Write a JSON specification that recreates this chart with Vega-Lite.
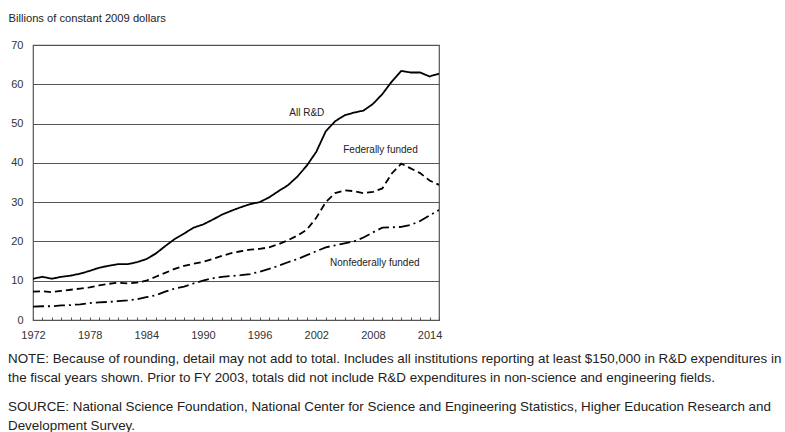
{
  "$schema": "https://vega.github.io/schema/vega-lite/v6.json",
  "width": 406,
  "height": 275,
  "autosize": {"type": "none"},
  "padding": {"left": 33, "top": 45, "right": 346, "bottom": 112},
  "background": "white",
  "config": {
    "font": "Liberation Sans",
    "view": {"stroke": "#555", "strokeWidth": 1.2}
  },
  "title": {
    "text": ["NOTE: Because of rounding, detail may not add to total. Includes all institutions reporting at least $150,000 in R&D expenditures in", "the fiscal years shown. Prior to FY 2003, totals did not include R&D expenditures in non-science and engineering fields."],
    "subtitle": ["SOURCE: National Science Foundation, National Center for Science and Engineering Statistics, Higher Education Research and", "Development Survey."],
    "orient": "bottom",
    "anchor": "start",
    "frame": "group",
    "dx": -25,
    "offset": 12,
    "fontSize": 13.4,
    "fontWeight": "normal",
    "color": "#222",
    "lineHeight": 19,
    "subtitleFontSize": 13.4,
    "subtitleColor": "#222",
    "subtitleLineHeight": 19,
    "subtitlePadding": 16
  },
  "datasets": {
    "series": [
      {"year": 1972, "series": "All R&D", "value": 10.5},
      {"year": 1973, "series": "All R&D", "value": 11.0},
      {"year": 1974, "series": "All R&D", "value": 10.5},
      {"year": 1975, "series": "All R&D", "value": 11.0},
      {"year": 1976, "series": "All R&D", "value": 11.3},
      {"year": 1977, "series": "All R&D", "value": 11.8},
      {"year": 1978, "series": "All R&D", "value": 12.5},
      {"year": 1979, "series": "All R&D", "value": 13.3},
      {"year": 1980, "series": "All R&D", "value": 13.8},
      {"year": 1981, "series": "All R&D", "value": 14.2},
      {"year": 1982, "series": "All R&D", "value": 14.2},
      {"year": 1983, "series": "All R&D", "value": 14.7},
      {"year": 1984, "series": "All R&D", "value": 15.5},
      {"year": 1985, "series": "All R&D", "value": 16.9},
      {"year": 1986, "series": "All R&D", "value": 18.8},
      {"year": 1987, "series": "All R&D", "value": 20.6},
      {"year": 1988, "series": "All R&D", "value": 22.0},
      {"year": 1989, "series": "All R&D", "value": 23.5},
      {"year": 1990, "series": "All R&D", "value": 24.3},
      {"year": 1991, "series": "All R&D", "value": 25.5},
      {"year": 1992, "series": "All R&D", "value": 26.8},
      {"year": 1993, "series": "All R&D", "value": 27.8},
      {"year": 1994, "series": "All R&D", "value": 28.7},
      {"year": 1995, "series": "All R&D", "value": 29.5},
      {"year": 1996, "series": "All R&D", "value": 30.0},
      {"year": 1997, "series": "All R&D", "value": 31.2},
      {"year": 1998, "series": "All R&D", "value": 32.8},
      {"year": 1999, "series": "All R&D", "value": 34.3},
      {"year": 2000, "series": "All R&D", "value": 36.5},
      {"year": 2001, "series": "All R&D", "value": 39.3},
      {"year": 2002, "series": "All R&D", "value": 42.8},
      {"year": 2003, "series": "All R&D", "value": 48.0},
      {"year": 2004, "series": "All R&D", "value": 50.6},
      {"year": 2005, "series": "All R&D", "value": 52.1},
      {"year": 2006, "series": "All R&D", "value": 52.8},
      {"year": 2007, "series": "All R&D", "value": 53.3},
      {"year": 2008, "series": "All R&D", "value": 55.0},
      {"year": 2009, "series": "All R&D", "value": 57.5},
      {"year": 2010, "series": "All R&D", "value": 60.7},
      {"year": 2011, "series": "All R&D", "value": 63.4},
      {"year": 2012, "series": "All R&D", "value": 63.0},
      {"year": 2013, "series": "All R&D", "value": 63.0},
      {"year": 2014, "series": "All R&D", "value": 62.0},
      {"year": 2015, "series": "All R&D", "value": 62.7},
      {"year": 1972, "series": "Federally funded", "value": 7.2},
      {"year": 1973, "series": "Federally funded", "value": 7.3},
      {"year": 1974, "series": "Federally funded", "value": 7.1},
      {"year": 1975, "series": "Federally funded", "value": 7.4},
      {"year": 1976, "series": "Federally funded", "value": 7.7},
      {"year": 1977, "series": "Federally funded", "value": 8.0},
      {"year": 1978, "series": "Federally funded", "value": 8.3},
      {"year": 1979, "series": "Federally funded", "value": 8.8},
      {"year": 1980, "series": "Federally funded", "value": 9.2},
      {"year": 1981, "series": "Federally funded", "value": 9.5},
      {"year": 1982, "series": "Federally funded", "value": 9.3},
      {"year": 1983, "series": "Federally funded", "value": 9.5},
      {"year": 1984, "series": "Federally funded", "value": 10.0},
      {"year": 1985, "series": "Federally funded", "value": 11.0},
      {"year": 1986, "series": "Federally funded", "value": 12.0},
      {"year": 1987, "series": "Federally funded", "value": 13.0},
      {"year": 1988, "series": "Federally funded", "value": 13.8},
      {"year": 1989, "series": "Federally funded", "value": 14.3},
      {"year": 1990, "series": "Federally funded", "value": 14.8},
      {"year": 1991, "series": "Federally funded", "value": 15.5},
      {"year": 1992, "series": "Federally funded", "value": 16.3},
      {"year": 1993, "series": "Federally funded", "value": 17.0},
      {"year": 1994, "series": "Federally funded", "value": 17.5},
      {"year": 1995, "series": "Federally funded", "value": 17.9},
      {"year": 1996, "series": "Federally funded", "value": 18.1},
      {"year": 1997, "series": "Federally funded", "value": 18.5},
      {"year": 1998, "series": "Federally funded", "value": 19.3},
      {"year": 1999, "series": "Federally funded", "value": 20.3},
      {"year": 2000, "series": "Federally funded", "value": 21.5},
      {"year": 2001, "series": "Federally funded", "value": 23.0},
      {"year": 2002, "series": "Federally funded", "value": 26.0},
      {"year": 2003, "series": "Federally funded", "value": 30.0},
      {"year": 2004, "series": "Federally funded", "value": 32.3},
      {"year": 2005, "series": "Federally funded", "value": 33.0},
      {"year": 2006, "series": "Federally funded", "value": 32.8},
      {"year": 2007, "series": "Federally funded", "value": 32.3},
      {"year": 2008, "series": "Federally funded", "value": 32.6},
      {"year": 2009, "series": "Federally funded", "value": 33.5},
      {"year": 2010, "series": "Federally funded", "value": 37.3},
      {"year": 2011, "series": "Federally funded", "value": 39.8},
      {"year": 2012, "series": "Federally funded", "value": 38.6},
      {"year": 2013, "series": "Federally funded", "value": 37.4},
      {"year": 2014, "series": "Federally funded", "value": 35.5},
      {"year": 2015, "series": "Federally funded", "value": 34.4},
      {"year": 1972, "series": "Nonfederally funded", "value": 3.4},
      {"year": 1973, "series": "Nonfederally funded", "value": 3.5},
      {"year": 1974, "series": "Nonfederally funded", "value": 3.5},
      {"year": 1975, "series": "Nonfederally funded", "value": 3.7},
      {"year": 1976, "series": "Nonfederally funded", "value": 3.8},
      {"year": 1977, "series": "Nonfederally funded", "value": 4.0},
      {"year": 1978, "series": "Nonfederally funded", "value": 4.3},
      {"year": 1979, "series": "Nonfederally funded", "value": 4.5},
      {"year": 1980, "series": "Nonfederally funded", "value": 4.6},
      {"year": 1981, "series": "Nonfederally funded", "value": 4.8},
      {"year": 1982, "series": "Nonfederally funded", "value": 5.0},
      {"year": 1983, "series": "Nonfederally funded", "value": 5.3},
      {"year": 1984, "series": "Nonfederally funded", "value": 5.8},
      {"year": 1985, "series": "Nonfederally funded", "value": 6.3},
      {"year": 1986, "series": "Nonfederally funded", "value": 7.2},
      {"year": 1987, "series": "Nonfederally funded", "value": 8.0},
      {"year": 1988, "series": "Nonfederally funded", "value": 8.5},
      {"year": 1989, "series": "Nonfederally funded", "value": 9.3},
      {"year": 1990, "series": "Nonfederally funded", "value": 10.0},
      {"year": 1991, "series": "Nonfederally funded", "value": 10.6},
      {"year": 1992, "series": "Nonfederally funded", "value": 11.0},
      {"year": 1993, "series": "Nonfederally funded", "value": 11.2},
      {"year": 1994, "series": "Nonfederally funded", "value": 11.4},
      {"year": 1995, "series": "Nonfederally funded", "value": 11.7},
      {"year": 1996, "series": "Nonfederally funded", "value": 12.3},
      {"year": 1997, "series": "Nonfederally funded", "value": 13.0},
      {"year": 1998, "series": "Nonfederally funded", "value": 13.8},
      {"year": 1999, "series": "Nonfederally funded", "value": 14.7},
      {"year": 2000, "series": "Nonfederally funded", "value": 15.5},
      {"year": 2001, "series": "Nonfederally funded", "value": 16.5},
      {"year": 2002, "series": "Nonfederally funded", "value": 17.5},
      {"year": 2003, "series": "Nonfederally funded", "value": 18.5},
      {"year": 2004, "series": "Nonfederally funded", "value": 19.0},
      {"year": 2005, "series": "Nonfederally funded", "value": 19.5},
      {"year": 2006, "series": "Nonfederally funded", "value": 20.0},
      {"year": 2007, "series": "Nonfederally funded", "value": 21.0},
      {"year": 2008, "series": "Nonfederally funded", "value": 22.3},
      {"year": 2009, "series": "Nonfederally funded", "value": 23.5},
      {"year": 2010, "series": "Nonfederally funded", "value": 23.6},
      {"year": 2011, "series": "Nonfederally funded", "value": 23.7},
      {"year": 2012, "series": "Nonfederally funded", "value": 24.2},
      {"year": 2013, "series": "Nonfederally funded", "value": 25.2},
      {"year": 2014, "series": "Nonfederally funded", "value": 26.6},
      {"year": 2015, "series": "Nonfederally funded", "value": 28.0}
    ],
    "labels": [
      {"year": 2001.0, "value": 52.7, "label": "All R&D"},
      {"year": 2008.8, "value": 43.3, "label": "Federally funded"},
      {"year": 2008.2, "value": 14.6, "label": "Nonfederally funded"}
    ]
  },
  "layer": [
    {
      "data": {"name": "series"},
      "mark": {"type": "line", "color": "black", "strokeWidth": 1.8, "clip": true},
      "encoding": {
        "x": {
          "field": "year",
          "type": "quantitative",
          "scale": {"domain": [1972, 2015], "nice": false, "zero": false},
          "axis": {
            "title": null,
            "values": [1972,1973,1974,1975,1976,1977,1978,1979,1980,1981,1982,1983,1984,1985,1986,1987,1988,1989,1990,1991,1992,1993,1994,1995,1996,1997,1998,1999,2000,2001,2002,2003,2004,2005,2006,2007,2008,2009,2010,2011,2012,2013,2014,2015],
            "tickCount": 200,
            "labelExpr": "(datum.value - 1972) % 6 == 0 ? format(datum.value, 'd') : ''",
            "labelOverlap": false,
            "grid": false,
            "domain": true,
            "domainColor": "#555",
            "domainWidth": 1.2,
            "ticks": true,
            "tickSize": -3,
            "tickColor": "#555",
            "labelPadding": 12,
            "labelFontSize": 11,
            "labelColor": "#333",
            "labelFlush": false
          }
        },
        "y": {
          "field": "value",
          "type": "quantitative",
          "scale": {"domain": [0, 70], "nice": false},
          "axis": {
            "title": "Billions of constant 2009 dollars",
            "titleAngle": 0,
            "titleAlign": "left",
            "titleBaseline": "alphabetic",
            "titleX": -25,
            "titleY": -24,
            "titleFontSize": 11.2,
            "titleFontWeight": "normal",
            "titleColor": "#222",
            "values": [0, 10, 20, 30, 40, 50, 60, 70],
            "tickCount": 200,
            "format": "d",
            "labelOverlap": false,
            "grid": true,
            "gridColor": "#555",
            "gridWidth": 1.2,
            "gridOpacity": 1,
            "domain": false,
            "ticks": false,
            "labelPadding": 10,
            "labelFontSize": 11,
            "labelColor": "#333"
          }
        },
        "strokeDash": {
          "field": "series",
          "type": "nominal",
          "scale": {
            "domain": ["All R&D", "Federally funded", "Nonfederally funded"],
            "range": [[1, 0], [7, 4], [11, 4, 2, 4]]
          },
          "legend": null
        },
        "detail": {"field": "series", "type": "nominal"}
      }
    },
    {
      "data": {"name": "labels"},
      "mark": {"type": "text", "fontSize": 10, "color": "#222", "align": "center", "baseline": "middle"},
      "encoding": {
        "x": {"field": "year", "type": "quantitative"},
        "y": {"field": "value", "type": "quantitative"},
        "text": {"field": "label", "type": "nominal"}
      }
    }
  ]
}
